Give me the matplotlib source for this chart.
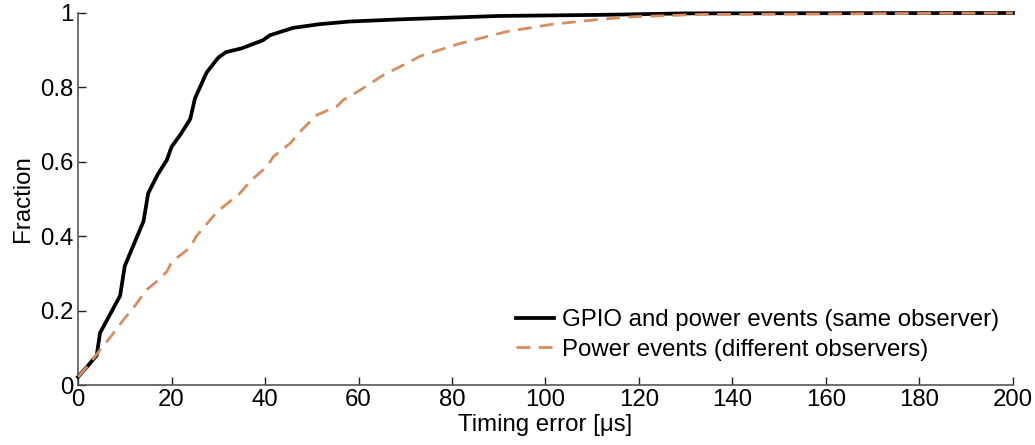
import matplotlib
matplotlib.use('Agg')
import matplotlib.pyplot as plt

# CDF of timing error, same observer (GPIO + power)
same_x = [0, 2, 4, 4.7, 6, 9, 10, 12, 14, 15, 17, 19, 20, 22, 24, 25, 27.5, 30, 31.7, 35,
          39.6, 41, 44, 46, 51.7, 58, 69, 90, 112, 130, 200]
same_y = [0.022, 0.05, 0.08, 0.14, 0.17, 0.24, 0.32, 0.38, 0.44, 0.515, 0.565, 0.605, 0.64,
          0.675, 0.715, 0.77, 0.84, 0.88, 0.895, 0.905, 0.927, 0.94, 0.952, 0.96, 0.97,
          0.977, 0.983, 0.992, 0.995, 0.999, 1.0]

# CDF of timing error, different observers (power only)
diff_x = [0, 2, 4.7, 7, 9.7, 12, 14.6, 17, 19, 20, 24, 25.3, 29.7, 34.6, 37, 40.4, 41.8,
          45.4, 47.5, 51.1, 55.3, 56.7, 60, 65.3, 71, 73.2, 81.7, 91.7, 101.6, 111.7,
          118.8, 133, 200]
diff_y = [0.022, 0.05, 0.094, 0.13, 0.175, 0.21, 0.255, 0.28, 0.305, 0.33, 0.37, 0.40,
          0.465, 0.515, 0.55, 0.587, 0.614, 0.65, 0.681, 0.726, 0.748, 0.766, 0.79, 0.833,
          0.869, 0.884, 0.918, 0.95, 0.97, 0.983, 0.99, 0.996, 1.0]

x_ticks = [0, 20, 40, 60, 80, 100, 120, 140, 160, 180, 200]
y_ticks = [0, 0.2, 0.4, 0.6, 0.8, 1]
y_labels = ['0', '0.2', '0.4', '0.6', '0.8', '1']

plt.rcParams['font.family'] = ['Liberation Sans', 'DejaVu Sans']
plt.rcParams['font.size'] = 17.3

fig = plt.figure(figsize=(10.35, 4.45), dpi=100)
ax = fig.add_axes([0.0754, 0.1348, 0.9033, 0.836])

ax.plot(same_x, same_y, color='black', lw=2.7, clip_on=False, zorder=3,
        label='GPIO and power events (same observer)')
ax.plot(diff_x, diff_y, color='#D98C5F', lw=2.0, dashes=(5, 3), clip_on=False, zorder=4,
        label='Power events (different observers)')

ax.set_xlim(0, 200)
ax.set_ylim(0, 1)
ax.set_xticks(x_ticks)
ax.set_yticks(y_ticks)
ax.set_yticklabels(y_labels)
ax.tick_params(direction='in', length=6, width=1, colors='#222222', pad=3)
ax.tick_params(labelcolor='black')
for s in ['top', 'right']:
    ax.spines[s].set_visible(False)
for s in ['left', 'bottom']:
    ax.spines[s].set_color('#555555')
    ax.spines[s].set_linewidth(1.2)

ax.set_xlabel('Timing error [\u03bcs]', labelpad=2)
ax.set_ylabel('Fraction', labelpad=5)

ax.legend(loc='lower right', bbox_to_anchor=(0.995, 0.04), frameon=False,
          handlelength=1.6, handletextpad=0.3, labelspacing=0.3, borderaxespad=0)

fig.savefig('out.png', dpi=100)
